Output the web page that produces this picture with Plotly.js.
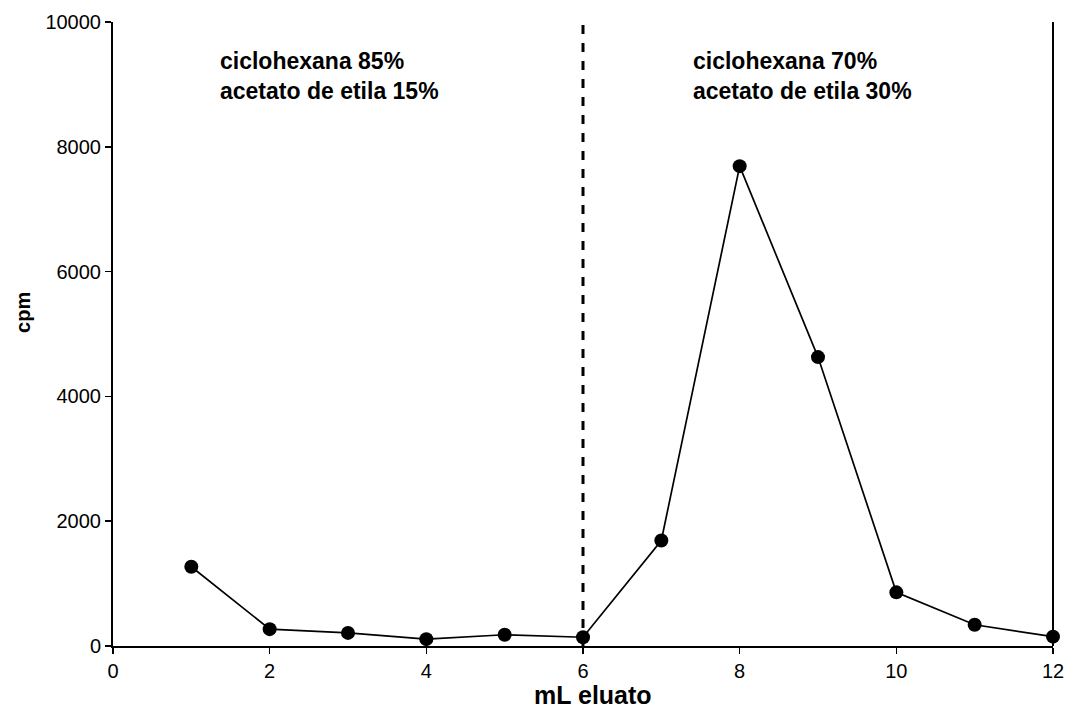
<!DOCTYPE html>
<html>
<head>
<meta charset="utf-8">
<script src="https://cdn.plot.ly/plotly-3.0.1.min.js"></script>
<style>html,body{margin:0;padding:0;background:#fff;}#chart{width:1065px;height:711px;}</style>
</head>
<body>
<div id="chart"></div>
<script>
var mlEluato = [1, 2, 3, 4, 5, 6, 7, 8, 9, 10, 11, 12];
var cpm = [1270, 270, 210, 110, 180, 140, 1690, 7690, 4630, 860, 340, 150];
var xTicks = [0, 2, 4, 6, 8, 10, 12];
var yTicks = [0, 2000, 4000, 6000, 8000, 10000];
var solventChangeX = 6;
var label1 = "ciclohexana 85%<br>acetato de etila 15%";
var label2 = "ciclohexana 70%<br>acetato de etila 30%";

var font = "Liberation Sans, Arial, sans-serif";

var trace = {
  x: mlEluato, y: cpm, type: "scatter", mode: "lines+markers",
  line: {color: "#000", width: 1.7},
  marker: {color: "#000", size: 14},
  cliponaxis: false, showlegend: false
};

var layout = {
  width: 1065, height: 711,
  margin: {l: 113, r: 12, t: 22, b: 65},
  paper_bgcolor: "#fff", plot_bgcolor: "#fff",
  font: {family: font, color: "#000", size: 20},
  xaxis: {
    range: [0, 12], tickvals: xTicks, ticktext: xTicks.map(String),
    showgrid: false, zeroline: false, showline: true, linecolor: "#000", linewidth: 2,
    ticks: "outside", ticklen: 6, tickwidth: 1.5, tickcolor: "#000",
    tickfont: {family: font, size: 20, color: "#000"}
  },
  yaxis: {
    range: [0, 10000], tickvals: yTicks, ticktext: yTicks.map(String),
    showgrid: false, zeroline: false, showline: true, linecolor: "#000", linewidth: 2,
    ticks: "outside", ticklen: 6, tickwidth: 1.5, tickcolor: "#000",
    tickfont: {family: font, size: 20, color: "#000"}
  },
  shapes: [
    {type: "line", xref: "x", yref: "y", x0: solventChangeX, x1: solventChangeX, y0: 0, y1: 10000,
     line: {color: "#000", width: 3, dash: "dash"}},
    {type: "line", xref: "paper", yref: "paper", x0: 1, x1: 1, y0: 0, y1: 1,
     line: {color: "#000", width: 2}}
  ],
  annotations: [
    {text: label1, xref: "paper", yref: "paper", x: 0.112, y: 0.962, xanchor: "left", yanchor: "top",
     align: "left", showarrow: false, font: {family: font, size: 23, color: "#000", weight: "bold"}},
    {text: label2, xref: "paper", yref: "paper", x: 0.615, y: 0.962, xanchor: "left", yanchor: "top",
     align: "left", showarrow: false, font: {family: font, size: 23, color: "#000", weight: "bold"}},
    {text: "mL eluato", xref: "paper", yref: "paper", x: 0.511, y: -0.078, xanchor: "center", yanchor: "middle",
     showarrow: false, font: {family: font, size: 25, color: "#000", weight: "bold"}},
    {text: "cpm", xref: "paper", yref: "paper", x: -0.096, y: 0.535, xanchor: "center", yanchor: "middle",
     textangle: -90, showarrow: false, font: {family: font, size: 20, color: "#000", weight: "bold"}}
  ]
};

Plotly.newPlot("chart", [trace], layout, {staticPlot: true, displayModeBar: false});
</script>
</body>
</html>
